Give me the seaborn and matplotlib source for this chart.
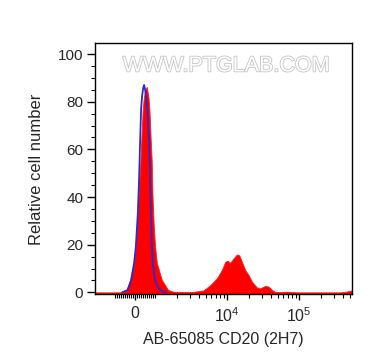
import numpy as np
import pandas as pd
import seaborn as sns
import matplotlib.pyplot as plt
from matplotlib import patheffects
from matplotlib.ticker import FixedLocator, NullFormatter

# stained sample (red filled histogram)
red_x = [-1900, -650, -450, -250, -75, 25, 125, 200, 250, 325, 375, 425, 500, 585,
         625, 665, 715, 785, 830, 870, 930, 1000, 1056, 1239, 1515, 1778, 2223,
         2872, 3367, 4688, 5809, 7186, 8431, 9380, 10096, 11007, 12230, 13620,
         14678, 15996, 17783, 19762, 22012, 25880, 28730, 33740, 37480, 41750,
         46420, 57510, 67440, 74990, 92890, 195800, 371000, 450000, 534000]
red_y = [0, 0, 0.8, 5, 12, 19, 33, 45, 52, 67, 76, 81, 85, 86.2,
         84, 82, 76.7, 62.8, 55, 40, 28, 19, 12.3, 5.2, 1, 0.3, 0.2,
         0.1, 0.2, 0.8, 3, 5.9, 9.4, 12.8, 13.3, 12.4, 14.2, 15.9,
         15.6, 12.8, 9.4, 7.3, 4.5, 2, 1.7, 2.7, 2.4, 1,
         0.2, 0.1, 0.3, 0.2, 0, 0, 0, 0.3, 0.8]

# isotype control (blue line)
blue_x = [-650, -365, -200, -50, 35, 135, 200, 250, 300, 350, 400, 450,
          500, 550, 615, 700, 750, 790, 835, 885, 1000, 1101, 1251, 1421]
blue_y = [0, 1, 5.2, 12.3, 19, 33, 48, 63, 77, 82.5, 85.5, 87,
          85, 82, 76.5, 63, 48, 33, 19, 12, 5, 2, 0.4, 0]

x_major = [0, 1e4, 1e5]
x_major_labels = ["0", "$\\mathregular{10^4}$", "$\\mathregular{10^5}$"]

red_df = pd.DataFrame({"x": red_x, "y": red_y})
blue_df = pd.DataFrame({"x": blue_x, "y": blue_y})

sns.set_theme(style="ticks")
plt.rcParams["font.family"] = ["Liberation Sans", "DejaVu Sans"]
plt.rcParams["mathtext.fontset"] = "custom"
plt.rcParams["mathtext.rm"] = "Liberation Sans"

fig = plt.figure(figsize=(3.72, 3.64), dpi=100)
ax = fig.add_axes([0.2554, 0.191, 0.69, 0.69])

ax.set_xscale("symlog", linthresh=1000, linscale=0.25)
ax.set_xlim(-1900, 534000)
ax.set_ylim(-0.9, 104.5)

ax.fill_between(red_df["x"], red_df["y"], -0.9, color="#ff0000", lw=0.6, edgecolor="#ff2020")
sns.lineplot(data=blue_df, x="x", y="y", ax=ax, color="#2a2ad0", lw=1.3, sort=False)

# watermark
ax.text(0.51, 0.91, "WWW.PTGLAB.COM", transform=ax.transAxes, ha="center", va="center",
        fontsize=15.5, color="white",
        path_effects=[patheffects.withStroke(linewidth=1.2, foreground="#c4c4c4")])

ax.set_xticks(x_major)
ax.set_xticklabels(x_major_labels)
minor = ([-1000 * k / 10 for k in range(1, 11)] + [100 * k for k in range(1, 11)]
         + [1000 * k for k in range(2, 10)] + [10000 * k for k in range(2, 10)]
         + [100000 * k for k in range(2, 6)])
ax.xaxis.set_minor_locator(FixedLocator(minor))
ax.xaxis.set_minor_formatter(NullFormatter())

ax.set_yticks(np.arange(0, 101, 20))
ax.yaxis.set_minor_locator(FixedLocator(np.arange(0, 101, 5)))

ax.tick_params(axis="both", which="major", direction="out", length=5.5, width=1,
               color="black", labelsize=11, pad=3)
ax.tick_params(axis="both", which="minor", direction="out", length=3, width=0.8, color="black")
ax.tick_params(axis="x", which="major", length=4.5, pad=4, labelsize=11.5)

for s in ax.spines.values():
    s.set_visible(True)
    s.set_color("black")
    s.set_linewidth(1)

ax.set_xlabel("AB-65085 CD20 (2H7)", fontsize=11.5, labelpad=5)
ax.set_ylabel("Relative cell number", fontsize=12, labelpad=10)

fig.savefig("out.png", dpi=100, facecolor="white")
